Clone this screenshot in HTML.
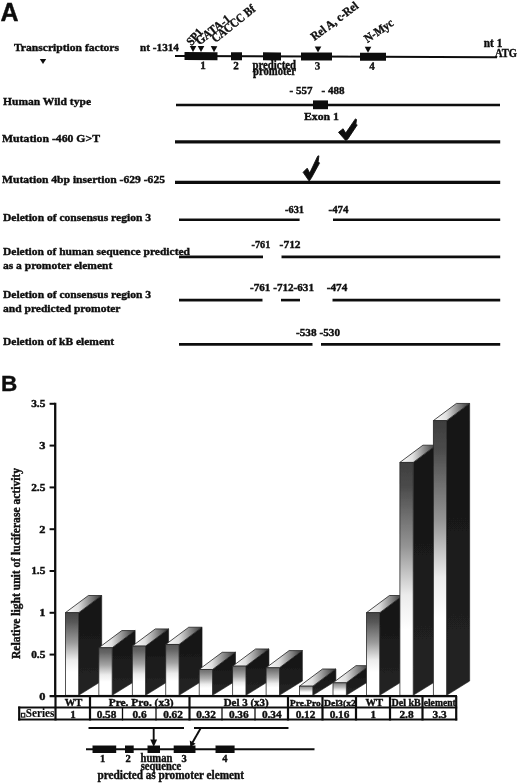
<!DOCTYPE html>
<html lang="en"><head><meta charset="utf-8"><title>Figure</title>
<style>html,body{margin:0;padding:0;background:#fff}svg{display:block}text{font-family:"Liberation Serif",serif;font-weight:bold;fill:#111;stroke:#111;stroke-width:0.4px}line{stroke:#111}</style></head><body>
<svg width="520" height="783" viewBox="0 0 520 783">
<defs>
<linearGradient id="gf" x1="0" y1="0" x2="0" y2="1"><stop offset="0" stop-color="#3c3c3c"/><stop offset="0.1" stop-color="#484848"/><stop offset="0.4" stop-color="#9c9c9c"/><stop offset="0.62" stop-color="#ececec"/><stop offset="0.8" stop-color="#ffffff"/></linearGradient>
<linearGradient id="gt" x1="0" y1="0" x2="1" y2="0"><stop offset="0" stop-color="#ffffff"/><stop offset="0.35" stop-color="#e0e0e0"/><stop offset="1" stop-color="#333"/></linearGradient>
<linearGradient id="gs" x1="0" y1="0" x2="0" y2="1"><stop offset="0" stop-color="#121212"/><stop offset="1" stop-color="#242424"/></linearGradient>
<filter id="bl" x="-5%" y="-5%" width="110%" height="110%"><feGaussianBlur stdDeviation="0.45"/></filter>
</defs>
<rect width="520" height="783" fill="#fff"/>
<g filter="url(#bl)">
<text x="0.5" y="20.5" font-size="25" text-anchor="start" font-weight="bold" style='font-family:"Liberation Sans", sans-serif' >A</text>
<text x="14" y="51" font-size="10.8" text-anchor="start" font-weight="bold" textLength="105" lengthAdjust="spacingAndGlyphs" >Transcription factors</text>
<polygon points="39.8,59 46.2,59 43,64" fill="#111"/>
<text x="140" y="51" font-size="10.8" text-anchor="start" font-weight="bold" textLength="39" lengthAdjust="spacingAndGlyphs" >nt -1314</text>
<g transform="rotate(0.22 180 56)">
<line x1="175" y1="56" x2="497" y2="56" stroke-width="2" />
<rect x="184.5" y="52" width="33.0" height="8" fill="#111"/>
<rect x="231" y="52" width="11" height="8" fill="#111"/>
<rect x="263" y="52" width="18" height="8" fill="#111"/>
<rect x="301" y="52" width="31" height="8" fill="#111"/>
<rect x="360" y="52" width="26" height="8" fill="#111"/>
<polygon points="189.7,46 196.3,46 193,52" fill="#111"/>
<polygon points="197.7,46 204.3,46 201,52" fill="#111"/>
<polygon points="210.7,46 217.3,46 214,52" fill="#111"/>
<polygon points="314.7,46 321.3,46 318,52" fill="#111"/>
<polygon points="364.7,46 371.3,46 368,52" fill="#111"/>
<text x="203" y="69" font-size="11" text-anchor="middle" font-weight="bold" >1</text>
<text x="236" y="69" font-size="11" text-anchor="middle" font-weight="bold" >2</text>
<text x="317.5" y="69" font-size="11" text-anchor="middle" font-weight="bold" >3</text>
<text x="372" y="69" font-size="11" text-anchor="middle" font-weight="bold" >4</text>
</g>
<text x="252.5" y="68.5" font-size="11.6" text-anchor="start" font-weight="bold" textLength="43.5" lengthAdjust="spacingAndGlyphs" >predicted</text>
<text x="253" y="75.4" font-size="11.6" text-anchor="start" font-weight="bold" textLength="43" lengthAdjust="spacingAndGlyphs" >promoter</text>
<text transform="translate(191.6 46.2) rotate(-48)" font-size="12" textLength="18" lengthAdjust="spacingAndGlyphs">SP1</text>
<text transform="translate(199.5 45.5) rotate(-38)" font-size="12.5" textLength="40.5" lengthAdjust="spacingAndGlyphs">GATA-1</text>
<text transform="translate(215.5 43) rotate(-38.5)" font-size="12.5" textLength="52" lengthAdjust="spacingAndGlyphs">CACCC Bf</text>
<text transform="translate(314.5 41) rotate(-37)" font-size="12" textLength="56" lengthAdjust="spacingAndGlyphs">Rel A, c-Rel</text>
<text transform="translate(367.5 43) rotate(-34)" font-size="12" textLength="32.5" lengthAdjust="spacingAndGlyphs">N-Myc</text>
<text x="483.8" y="47.3" font-size="11.5" text-anchor="start" font-weight="bold" textLength="18.5" lengthAdjust="spacingAndGlyphs" >nt 1</text>
<text x="495" y="57.3" font-size="11.5" text-anchor="start" font-weight="bold" textLength="22" lengthAdjust="spacingAndGlyphs" >ATG</text>
<text x="3" y="104.5" font-size="10.8" text-anchor="start" font-weight="bold" textLength="88" lengthAdjust="spacingAndGlyphs" >Human Wild type</text>
<text x="289.5" y="94.3" font-size="10.8" text-anchor="start" font-weight="bold" textLength="23" lengthAdjust="spacingAndGlyphs" >- 557</text>
<text x="321.5" y="94.3" font-size="10.8" text-anchor="start" font-weight="bold" textLength="23" lengthAdjust="spacingAndGlyphs" >- 488</text>
<line x1="176" y1="105.1" x2="500" y2="105.1" stroke-width="2.5" />
<rect x="313" y="100.4" width="15" height="8.799999999999997" fill="#111"/>
<text x="304" y="120.2" font-size="10.8" text-anchor="start" font-weight="bold" textLength="35" lengthAdjust="spacingAndGlyphs" >Exon 1</text>
<text x="2" y="141.7" font-size="10.8" text-anchor="start" font-weight="bold" textLength="98" lengthAdjust="spacingAndGlyphs" >Mutation -460 G&gt;T</text>
<line x1="175" y1="141.9" x2="500.2" y2="141.9" stroke-width="3.2" />
<polygon points="338.5,132.3 343.1,128.8 345.7,133.1 355.4,118.9 356.5,119.5 355.8,124.6 357.2,124.9 347.7,139.2 345.7,140.5" fill="#111" stroke="#111" stroke-width="0.9" stroke-linejoin="round"/>
<text x="2" y="182.7" font-size="10.8" text-anchor="start" font-weight="bold" textLength="163" lengthAdjust="spacingAndGlyphs" >Mutation 4bp insertion -629 -625</text>
<line x1="175" y1="182.4" x2="500.2" y2="182.4" stroke-width="3.3" />
<polygon points="303.1,172.3 307.2,168.2 309.7,173.1 317.7,156.2 318.9,155.8 318.2,161.5 319.5,163.1 311.5,177.7 309.2,181.1" fill="#111" stroke="#111" stroke-width="0.9" stroke-linejoin="round"/>
<text x="3" y="220.7" font-size="10.8" text-anchor="start" font-weight="bold" textLength="148" lengthAdjust="spacingAndGlyphs" >Deletion of consensus region 3</text>
<line x1="179" y1="219.7" x2="299.6" y2="219.7" stroke-width="2.6" />
<line x1="333" y1="219.7" x2="500.2" y2="219.7" stroke-width="2.6" />
<text x="285" y="212.7" font-size="10.8" text-anchor="start" font-weight="bold" textLength="19" lengthAdjust="spacingAndGlyphs" >-631</text>
<text x="328.5" y="212.7" font-size="10.8" text-anchor="start" font-weight="bold" textLength="20" lengthAdjust="spacingAndGlyphs" >-474</text>
<text x="3" y="255.4" font-size="10.8" text-anchor="start" font-weight="bold" textLength="187" lengthAdjust="spacingAndGlyphs" >Deletion of human sequence predicted</text>
<text x="3" y="268.8" font-size="10.8" text-anchor="start" font-weight="bold" textLength="109.3" lengthAdjust="spacingAndGlyphs" >as a promoter element</text>
<line x1="179" y1="256.9" x2="263" y2="256.9" stroke-width="2.6" />
<line x1="281.5" y1="256.9" x2="500.2" y2="256.9" stroke-width="2.6" />
<text x="251.5" y="248.2" font-size="10.8" text-anchor="start" font-weight="bold" textLength="18.8" lengthAdjust="spacingAndGlyphs" >-761</text>
<text x="279.6" y="248.2" font-size="10.8" text-anchor="start" font-weight="bold" textLength="21" lengthAdjust="spacingAndGlyphs" >-712</text>
<text x="3" y="298" font-size="10.8" text-anchor="start" font-weight="bold" textLength="148" lengthAdjust="spacingAndGlyphs" >Deletion of consensus region 3</text>
<text x="3" y="311.7" font-size="10.8" text-anchor="start" font-weight="bold" textLength="117.5" lengthAdjust="spacingAndGlyphs" >and predicted promoter</text>
<line x1="179" y1="300.1" x2="262.5" y2="300.1" stroke-width="2.6" />
<line x1="281" y1="300.1" x2="300" y2="300.1" stroke-width="2.6" />
<line x1="332.5" y1="300.1" x2="500.2" y2="300.1" stroke-width="2.6" />
<text x="250" y="290.8" font-size="10.8" text-anchor="start" font-weight="bold" textLength="64" lengthAdjust="spacingAndGlyphs" >-761 -712-631</text>
<text x="326.8" y="290.8" font-size="10.8" text-anchor="start" font-weight="bold" textLength="20.5" lengthAdjust="spacingAndGlyphs" >-474</text>
<text x="3" y="344.7" font-size="10.8" text-anchor="start" font-weight="bold" textLength="111.2" lengthAdjust="spacingAndGlyphs" >Deletion of kB element</text>
<line x1="179" y1="344.4" x2="312.5" y2="344.4" stroke-width="2.6" />
<line x1="321" y1="344.4" x2="500.2" y2="344.4" stroke-width="2.6" />
<text x="296" y="336" font-size="10.8" text-anchor="start" font-weight="bold" textLength="44" lengthAdjust="spacingAndGlyphs" >-538 -530</text>
<text x="1" y="391.3" font-size="22.5" text-anchor="start" font-weight="bold" style='font-family:"Liberation Sans", sans-serif' >B</text>
<line x1="55.2" y1="402.8" x2="55.2" y2="697" stroke-width="2.3" />
<text x="39.199999999999996" y="699.8" font-size="10.4" text-anchor="start" font-weight="bold" textLength="6.2" lengthAdjust="spacingAndGlyphs" >0</text>
<line x1="49.6" y1="654.6" x2="55" y2="654.6" stroke-width="2" />
<text x="31.2" y="658.0" font-size="10.4" text-anchor="start" font-weight="bold" textLength="14.2" lengthAdjust="spacingAndGlyphs" >0.5</text>
<line x1="49.6" y1="612.8" x2="55" y2="612.8" stroke-width="2" />
<text x="39.199999999999996" y="616.1999999999999" font-size="10.4" text-anchor="start" font-weight="bold" textLength="6.2" lengthAdjust="spacingAndGlyphs" >1</text>
<line x1="49.6" y1="571.0" x2="55" y2="571.0" stroke-width="2" />
<text x="31.2" y="574.4" font-size="10.4" text-anchor="start" font-weight="bold" textLength="14.2" lengthAdjust="spacingAndGlyphs" >1.5</text>
<line x1="49.6" y1="529.2" x2="55" y2="529.2" stroke-width="2" />
<text x="39.199999999999996" y="532.6" font-size="10.4" text-anchor="start" font-weight="bold" textLength="6.2" lengthAdjust="spacingAndGlyphs" >2</text>
<line x1="49.6" y1="487.40000000000003" x2="55" y2="487.40000000000003" stroke-width="2" />
<text x="31.2" y="490.8" font-size="10.4" text-anchor="start" font-weight="bold" textLength="14.2" lengthAdjust="spacingAndGlyphs" >2.5</text>
<line x1="49.6" y1="445.6000000000001" x2="55" y2="445.6000000000001" stroke-width="2" />
<text x="39.199999999999996" y="449.00000000000006" font-size="10.4" text-anchor="start" font-weight="bold" textLength="6.2" lengthAdjust="spacingAndGlyphs" >3</text>
<line x1="49.6" y1="403.80000000000007" x2="55" y2="403.80000000000007" stroke-width="2" />
<text x="31.2" y="407.20000000000005" font-size="10.4" text-anchor="start" font-weight="bold" textLength="14.2" lengthAdjust="spacingAndGlyphs" >3.5</text>
<text transform="translate(19.8 659) rotate(-90)" font-size="11.5" textLength="191" lengthAdjust="spacingAndGlyphs">Relative light unit of luciferase activity</text>
<polygon points="78.70,612.70 101.70,595.50 101.70,681.00 78.70,695.3" fill="url(#gs)" stroke="#1c1c1c" stroke-width="0.6"/>
<polygon points="65.40,612.70 88.40,595.50 101.70,595.50 78.70,612.70" fill="url(#gt)" stroke="#222" stroke-width="0.8"/>
<linearGradient id="gf0" x1="0" y1="0" x2="0" y2="1"><stop offset="0" stop-color="rgb(72,72,72)"/><stop offset="0.1" stop-color="rgb(84,84,84)"/><stop offset="0.36" stop-color="rgb(154,154,154)"/><stop offset="0.57" stop-color="#ececec"/><stop offset="0.72" stop-color="#fff"/></linearGradient>
<rect x="65.40" y="612.70" width="13.3" height="82.60" fill="url(#gf0)" stroke="#2a2a2a" stroke-width="0.8"/>
<polygon points="112.15,647.77 135.15,630.57 135.15,681.00 112.15,695.3" fill="url(#gs)" stroke="#1c1c1c" stroke-width="0.6"/>
<polygon points="98.85,647.77 121.85,630.57 135.15,630.57 112.15,647.77" fill="url(#gt)" stroke="#222" stroke-width="0.8"/>
<linearGradient id="gf1" x1="0" y1="0" x2="0" y2="1"><stop offset="0" stop-color="rgb(89,89,89)"/><stop offset="0.1" stop-color="rgb(101,101,101)"/><stop offset="0.36" stop-color="rgb(163,163,163)"/><stop offset="0.57" stop-color="#ececec"/><stop offset="0.72" stop-color="#fff"/></linearGradient>
<rect x="98.85" y="647.77" width="13.3" height="47.53" fill="url(#gf1)" stroke="#2a2a2a" stroke-width="0.8"/>
<polygon points="145.60,646.10 168.60,628.90 168.60,681.00 145.60,695.3" fill="url(#gs)" stroke="#1c1c1c" stroke-width="0.6"/>
<polygon points="132.30,646.10 155.30,628.90 168.60,628.90 145.60,646.10" fill="url(#gt)" stroke="#222" stroke-width="0.8"/>
<linearGradient id="gf2" x1="0" y1="0" x2="0" y2="1"><stop offset="0" stop-color="rgb(88,88,88)"/><stop offset="0.1" stop-color="rgb(100,100,100)"/><stop offset="0.36" stop-color="rgb(163,163,163)"/><stop offset="0.57" stop-color="#ececec"/><stop offset="0.72" stop-color="#fff"/></linearGradient>
<rect x="132.30" y="646.10" width="13.3" height="49.20" fill="url(#gf2)" stroke="#2a2a2a" stroke-width="0.8"/>
<polygon points="179.05,644.43 202.05,627.23 202.05,681.00 179.05,695.3" fill="url(#gs)" stroke="#1c1c1c" stroke-width="0.6"/>
<polygon points="165.75,644.43 188.75,627.23 202.05,627.23 179.05,644.43" fill="url(#gt)" stroke="#222" stroke-width="0.8"/>
<linearGradient id="gf3" x1="0" y1="0" x2="0" y2="1"><stop offset="0" stop-color="rgb(87,87,87)"/><stop offset="0.1" stop-color="rgb(99,99,99)"/><stop offset="0.36" stop-color="rgb(162,162,162)"/><stop offset="0.57" stop-color="#ececec"/><stop offset="0.72" stop-color="#fff"/></linearGradient>
<rect x="165.75" y="644.43" width="13.3" height="50.87" fill="url(#gf3)" stroke="#2a2a2a" stroke-width="0.8"/>
<polygon points="212.50,669.48 235.50,652.28 235.50,681.00 212.50,695.3" fill="url(#gs)" stroke="#1c1c1c" stroke-width="0.6"/>
<polygon points="199.20,669.48 222.20,652.28 235.50,652.28 212.50,669.48" fill="url(#gt)" stroke="#222" stroke-width="0.8"/>
<linearGradient id="gf4" x1="0" y1="0" x2="0" y2="1"><stop offset="0" stop-color="rgb(111,111,111)"/><stop offset="0.1" stop-color="rgb(123,123,123)"/><stop offset="0.36" stop-color="rgb(175,175,175)"/><stop offset="0.57" stop-color="#ececec"/><stop offset="0.72" stop-color="#fff"/></linearGradient>
<rect x="199.20" y="669.48" width="13.3" height="25.82" fill="url(#gf4)" stroke="#2a2a2a" stroke-width="0.8"/>
<polygon points="245.95,666.14 268.95,648.94 268.95,681.00 245.95,695.3" fill="url(#gs)" stroke="#1c1c1c" stroke-width="0.6"/>
<polygon points="232.65,666.14 255.65,648.94 268.95,648.94 245.95,666.14" fill="url(#gt)" stroke="#222" stroke-width="0.8"/>
<linearGradient id="gf5" x1="0" y1="0" x2="0" y2="1"><stop offset="0" stop-color="rgb(106,106,106)"/><stop offset="0.1" stop-color="rgb(118,118,118)"/><stop offset="0.36" stop-color="rgb(173,173,173)"/><stop offset="0.57" stop-color="#ececec"/><stop offset="0.72" stop-color="#fff"/></linearGradient>
<rect x="232.65" y="666.14" width="13.3" height="29.16" fill="url(#gf5)" stroke="#2a2a2a" stroke-width="0.8"/>
<polygon points="279.40,667.81 302.40,650.61 302.40,681.00 279.40,695.3" fill="url(#gs)" stroke="#1c1c1c" stroke-width="0.6"/>
<polygon points="266.10,667.81 289.10,650.61 302.40,650.61 279.40,667.81" fill="url(#gt)" stroke="#222" stroke-width="0.8"/>
<linearGradient id="gf6" x1="0" y1="0" x2="0" y2="1"><stop offset="0" stop-color="rgb(108,108,108)"/><stop offset="0.1" stop-color="rgb(120,120,120)"/><stop offset="0.36" stop-color="rgb(174,174,174)"/><stop offset="0.57" stop-color="#ececec"/><stop offset="0.72" stop-color="#fff"/></linearGradient>
<rect x="266.10" y="667.81" width="13.3" height="27.49" fill="url(#gf6)" stroke="#2a2a2a" stroke-width="0.8"/>
<polygon points="312.85,686.18 335.85,668.98 335.85,681.00 312.85,695.3" fill="url(#gs)" stroke="#1c1c1c" stroke-width="0.6"/>
<polygon points="299.55,686.18 322.55,668.98 335.85,668.98 312.85,686.18" fill="url(#gt)" stroke="#222" stroke-width="0.8"/>
<linearGradient id="gf7" x1="0" y1="0" x2="0" y2="1"><stop offset="0" stop-color="rgb(138,138,138)"/><stop offset="0.1" stop-color="rgb(150,150,150)"/><stop offset="0.36" stop-color="rgb(190,190,190)"/><stop offset="0.57" stop-color="#ececec"/><stop offset="0.72" stop-color="#fff"/></linearGradient>
<rect x="299.55" y="686.18" width="13.3" height="9.12" fill="url(#gf7)" stroke="#2a2a2a" stroke-width="0.8"/>
<polygon points="346.30,682.84 369.30,665.64 369.30,681.00 346.30,695.3" fill="url(#gs)" stroke="#1c1c1c" stroke-width="0.6"/>
<polygon points="333.00,682.84 356.00,665.64 369.30,665.64 346.30,682.84" fill="url(#gt)" stroke="#222" stroke-width="0.8"/>
<linearGradient id="gf8" x1="0" y1="0" x2="0" y2="1"><stop offset="0" stop-color="rgb(132,132,132)"/><stop offset="0.1" stop-color="rgb(144,144,144)"/><stop offset="0.36" stop-color="rgb(187,187,187)"/><stop offset="0.57" stop-color="#ececec"/><stop offset="0.72" stop-color="#fff"/></linearGradient>
<rect x="333.00" y="682.84" width="13.3" height="12.46" fill="url(#gf8)" stroke="#2a2a2a" stroke-width="0.8"/>
<polygon points="379.75,612.70 402.75,595.50 402.75,681.00 379.75,695.3" fill="url(#gs)" stroke="#1c1c1c" stroke-width="0.6"/>
<polygon points="366.45,612.70 389.45,595.50 402.75,595.50 379.75,612.70" fill="url(#gt)" stroke="#222" stroke-width="0.8"/>
<linearGradient id="gf9" x1="0" y1="0" x2="0" y2="1"><stop offset="0" stop-color="rgb(72,72,72)"/><stop offset="0.1" stop-color="rgb(84,84,84)"/><stop offset="0.36" stop-color="rgb(154,154,154)"/><stop offset="0.57" stop-color="#ececec"/><stop offset="0.72" stop-color="#fff"/></linearGradient>
<rect x="366.45" y="612.70" width="13.3" height="82.60" fill="url(#gf9)" stroke="#2a2a2a" stroke-width="0.8"/>
<polygon points="413.20,462.40 436.20,445.20 436.20,681.00 413.20,695.3" fill="url(#gs)" stroke="#1c1c1c" stroke-width="0.6"/>
<polygon points="399.90,462.40 422.90,445.20 436.20,445.20 413.20,462.40" fill="url(#gt)" stroke="#222" stroke-width="0.8"/>
<linearGradient id="gf10" x1="0" y1="0" x2="0" y2="1"><stop offset="0" stop-color="rgb(62,62,62)"/><stop offset="0.1" stop-color="rgb(74,74,74)"/><stop offset="0.36" stop-color="rgb(148,148,148)"/><stop offset="0.57" stop-color="#ececec"/><stop offset="0.72" stop-color="#fff"/></linearGradient>
<rect x="399.90" y="462.40" width="13.3" height="232.90" fill="url(#gf10)" stroke="#2a2a2a" stroke-width="0.8"/>
<polygon points="446.65,420.65 469.65,403.45 469.65,681.00 446.65,695.3" fill="url(#gs)" stroke="#1c1c1c" stroke-width="0.6"/>
<polygon points="433.35,420.65 456.35,403.45 469.65,403.45 446.65,420.65" fill="url(#gt)" stroke="#222" stroke-width="0.8"/>
<linearGradient id="gf11" x1="0" y1="0" x2="0" y2="1"><stop offset="0" stop-color="rgb(62,62,62)"/><stop offset="0.1" stop-color="rgb(74,74,74)"/><stop offset="0.36" stop-color="rgb(148,148,148)"/><stop offset="0.57" stop-color="#ececec"/><stop offset="0.72" stop-color="#fff"/></linearGradient>
<rect x="433.35" y="420.65" width="13.3" height="274.65" fill="url(#gf11)" stroke="#2a2a2a" stroke-width="0.8"/>
<line x1="49.6" y1="696.2" x2="457" y2="696.2" stroke-width="2.3" />
<line x1="18.2" y1="707.5" x2="457.2" y2="707.5" stroke-width="2.2" />
<line x1="18.2" y1="719.5" x2="457.2" y2="719.5" stroke-width="2.2" />
<line x1="19.2" y1="706.5" x2="19.2" y2="720.5" stroke-width="2.2" />
<line x1="55.5" y1="696" x2="55.5" y2="707.5" stroke-width="2.2" />
<line x1="90" y1="696" x2="90" y2="707.5" stroke-width="2.2" />
<line x1="189.5" y1="696" x2="189.5" y2="707.5" stroke-width="2.2" />
<line x1="288" y1="696" x2="288" y2="707.5" stroke-width="2.2" />
<line x1="322.5" y1="696" x2="322.5" y2="707.5" stroke-width="2.2" />
<line x1="356" y1="696" x2="356" y2="707.5" stroke-width="2.2" />
<line x1="390" y1="696" x2="390" y2="707.5" stroke-width="2.2" />
<line x1="422.5" y1="696" x2="422.5" y2="707.5" stroke-width="2.2" />
<line x1="456.2" y1="696" x2="456.2" y2="707.5" stroke-width="2.2" />
<line x1="55.5" y1="707.5" x2="55.5" y2="720.5" stroke-width="2.2" />
<line x1="90" y1="707.5" x2="90" y2="720.5" stroke-width="2.2" />
<line x1="122.5" y1="707.5" x2="122.5" y2="720.5" stroke-width="1.3" />
<line x1="156" y1="707.5" x2="156" y2="720.5" stroke-width="1.3" />
<line x1="189.5" y1="707.5" x2="189.5" y2="720.5" stroke-width="2.2" />
<line x1="222" y1="707.5" x2="222" y2="720.5" stroke-width="1.3" />
<line x1="255" y1="707.5" x2="255" y2="720.5" stroke-width="1.3" />
<line x1="288" y1="707.5" x2="288" y2="720.5" stroke-width="2.2" />
<line x1="322.5" y1="707.5" x2="322.5" y2="720.5" stroke-width="2.2" />
<line x1="356" y1="707.5" x2="356" y2="720.5" stroke-width="2.2" />
<line x1="390" y1="707.5" x2="390" y2="720.5" stroke-width="2.2" />
<line x1="422.5" y1="707.5" x2="422.5" y2="720.5" stroke-width="2.2" />
<line x1="456.2" y1="707.5" x2="456.2" y2="720.5" stroke-width="2.2" />
<text x="73.6" y="705.5" font-size="11" text-anchor="middle" font-weight="bold" textLength="17.7" lengthAdjust="spacingAndGlyphs" >WT</text>
<text x="108.7" y="705.5" font-size="10.8" text-anchor="start" font-weight="bold" textLength="65" lengthAdjust="spacingAndGlyphs" >Pre. Pro. (x3)</text>
<text x="223.7" y="705.5" font-size="10.8" text-anchor="start" font-weight="bold" textLength="45" lengthAdjust="spacingAndGlyphs" >Del 3 (x3)</text>
<text x="290" y="706.2" font-size="9.2" text-anchor="start" font-weight="bold" textLength="33" lengthAdjust="spacingAndGlyphs" >Pre.Pro.</text>
<text x="324" y="706.2" font-size="9.2" text-anchor="start" font-weight="bold" textLength="32" lengthAdjust="spacingAndGlyphs" >Del3(x2</text>
<text x="374.3" y="705.5" font-size="11" text-anchor="middle" font-weight="bold" textLength="17.7" lengthAdjust="spacingAndGlyphs" >WT</text>
<text x="391.5" y="705.5" font-size="10.4" text-anchor="start" font-weight="bold" textLength="29.3" lengthAdjust="spacingAndGlyphs" >Del kB</text>
<text x="423.7" y="705.5" font-size="10.2" text-anchor="start" font-weight="bold" textLength="32" lengthAdjust="spacingAndGlyphs" >element</text>
<rect x="21.4" y="713.3" width="3.4" height="3.8" fill="#fff" stroke="#111" stroke-width="1.1"/>
<text x="25.8" y="717.3" font-size="12" text-anchor="start" font-weight="normal" textLength="28.6" lengthAdjust="spacingAndGlyphs" style="stroke-width:0.15px">Series</text>
<text x="70.3" y="717.5" font-size="10.6" text-anchor="start" font-weight="bold" textLength="5.5" lengthAdjust="spacingAndGlyphs" >1</text>
<text x="96.64999999999999" y="717.5" font-size="10.6" text-anchor="start" font-weight="bold" textLength="19.8" lengthAdjust="spacingAndGlyphs" >0.58</text>
<text x="132.45000000000002" y="717.5" font-size="10.6" text-anchor="start" font-weight="bold" textLength="14.2" lengthAdjust="spacingAndGlyphs" >0.6</text>
<text x="163.15" y="717.5" font-size="10.6" text-anchor="start" font-weight="bold" textLength="19.8" lengthAdjust="spacingAndGlyphs" >0.62</text>
<text x="196.15" y="717.5" font-size="10.6" text-anchor="start" font-weight="bold" textLength="19.8" lengthAdjust="spacingAndGlyphs" >0.32</text>
<text x="228.9" y="717.5" font-size="10.6" text-anchor="start" font-weight="bold" textLength="19.8" lengthAdjust="spacingAndGlyphs" >0.36</text>
<text x="261.90000000000003" y="717.5" font-size="10.6" text-anchor="start" font-weight="bold" textLength="19.8" lengthAdjust="spacingAndGlyphs" >0.34</text>
<text x="295.65000000000003" y="717.5" font-size="10.6" text-anchor="start" font-weight="bold" textLength="19.8" lengthAdjust="spacingAndGlyphs" >0.12</text>
<text x="329.65000000000003" y="717.5" font-size="10.6" text-anchor="start" font-weight="bold" textLength="19.8" lengthAdjust="spacingAndGlyphs" >0.16</text>
<text x="370.55" y="717.5" font-size="10.6" text-anchor="start" font-weight="bold" textLength="5.5" lengthAdjust="spacingAndGlyphs" >1</text>
<text x="399.45" y="717.5" font-size="10.6" text-anchor="start" font-weight="bold" textLength="14.2" lengthAdjust="spacingAndGlyphs" >2.8</text>
<text x="432.55" y="717.5" font-size="10.6" text-anchor="start" font-weight="bold" textLength="14.2" lengthAdjust="spacingAndGlyphs" >3.3</text>
<line x1="88.5" y1="728" x2="184" y2="728" stroke-width="2" />
<line x1="194" y1="728" x2="288.5" y2="728" stroke-width="2" />
<line x1="153.7" y1="728" x2="153.7" y2="742" stroke-width="1.9" />
<polygon points="150.3,739.5 157.1,739.5 153.7,747" fill="#111"/>
<line x1="200.8" y1="728" x2="192.5" y2="742.5" stroke-width="1.9" />
<polygon points="189.8,740.5 195.6,743.8 190.3,747" fill="#111"/>
<line x1="86" y1="749.2" x2="314.5" y2="749.2" stroke-width="1.9" />
<rect x="92.5" y="745.5" width="23.700000000000003" height="7.5" fill="#111"/>
<rect x="125" y="745.5" width="8.699999999999989" height="7.5" fill="#111"/>
<rect x="147.5" y="745.5" width="12.5" height="7.5" fill="#111"/>
<rect x="173.7" y="745.5" width="21.80000000000001" height="7.5" fill="#111"/>
<rect x="215.5" y="745.5" width="19.099999999999994" height="7.5" fill="#111"/>
<text x="102.5" y="762" font-size="10.5" text-anchor="middle" font-weight="bold" >1</text>
<text x="128" y="762" font-size="10.5" text-anchor="middle" font-weight="bold" >2</text>
<text x="184" y="762" font-size="10.5" text-anchor="middle" font-weight="bold" >3</text>
<text x="224.8" y="762" font-size="10.5" text-anchor="middle" font-weight="bold" >4</text>
<text x="140.5" y="762" font-size="12" text-anchor="start" font-weight="bold" textLength="32" lengthAdjust="spacingAndGlyphs" >human</text>
<text x="140.7" y="769.5" font-size="12" text-anchor="start" font-weight="bold" textLength="40.5" lengthAdjust="spacingAndGlyphs" >sequence</text>
<text x="97.5" y="779" font-size="12" text-anchor="start" font-weight="bold" textLength="146.5" lengthAdjust="spacingAndGlyphs" >predicted as promoter element</text>
</g>
</svg></body></html>
